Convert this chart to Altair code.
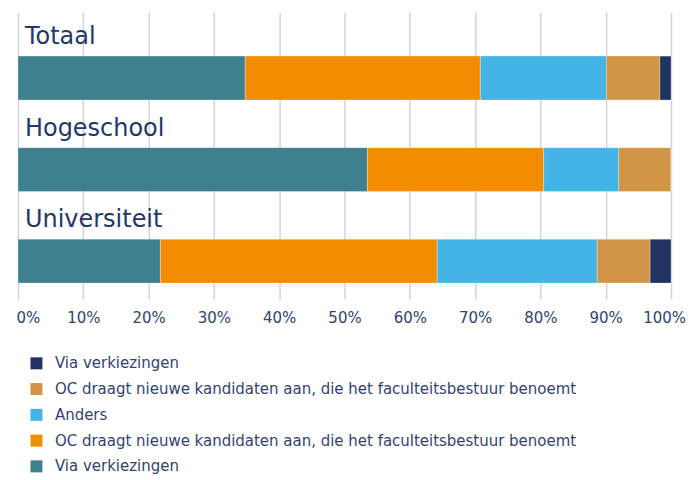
import json
import altair as alt
import pandas as pd

categories = ["Totaal", "Hogeschool", "Universiteit"]
series_keys = ["s1", "s2", "s3", "s4", "s5"]
series_labels = [
    "Via verkiezingen",
    "OC draagt nieuwe kandidaten aan, die het faculteitsbestuur benoemt",
    "Anders",
    "OC draagt nieuwe kandidaten aan, die het faculteitsbestuur benoemt",
    "Via verkiezingen",
]
series_colors = ["#3e808e", "#f28c00", "#42b4e6", "#d29545", "#213462"]

teal_values = [34.8, 53.5, 21.8]
orange_values = [36.0, 27.0, 42.4]
blue_values = [19.3, 11.5, 24.5]
tan_values = [8.2, 8.0, 8.1]
navy_values = [1.7, 0.0, 3.2]

x_ticks = [0, 10, 20, 30, 40, 50, 60, 70, 80, 90, 100]

all_values = [teal_values, orange_values, blue_values, tan_values, navy_values]
rows = []
for si, (key, vals) in enumerate(zip(series_keys, all_values)):
    for ci, cat in enumerate(categories):
        rows.append({"cat": cat, "series": key, "order": si, "value": vals[ci]})
df = pd.DataFrame(rows)
labels_df = pd.DataFrame({"cat": categories})

label_map = json.dumps(dict(zip(series_keys, series_labels)))
text_color = "#253763"
font = "DejaVu Sans"

y_enc = alt.Y("cat:N", sort=categories, axis=None,
              scale=alt.Scale(paddingInner=0, paddingOuter=0))

bars = alt.Chart(df).mark_bar(size=44, yOffset=20, stroke="#ffffff",
                              strokeWidth=0.5, strokeOpacity=0.6).encode(
    x=alt.X("value:Q", stack="zero",
            scale=alt.Scale(domain=[0, 100], nice=False),
            axis=alt.Axis(values=x_ticks, title=None, grid=True,
                          gridColor="#d2d3da", gridWidth=1.5,
                          tickColor="#d2d3da", tickWidth=1.5, tickSize=12,
                          domain=False, labelPadding=12,
                          labelExpr="datum.value + '%'",
                          labelAlign=alt.ExprRef("datum.value == 0 ? 'left' : 'center'"),
                          labelOffset=alt.ExprRef("datum.value == 100 ? -7 : (datum.value == 0 ? -2 : 0)"),
                          labelFont=font, labelFontSize=15,
                          labelColor="#33436e")),
    y=y_enc,
    color=alt.Color("series:N",
                    scale=alt.Scale(domain=series_keys[::-1], range=series_colors[::-1]),
                    legend=alt.Legend(title=None, orient="none", legendX=11, legendY=344,
                                      direction="vertical", symbolType="square",
                                      symbolSize=144, symbolStrokeWidth=0,
                                      labelExpr=label_map + "[datum.value]",
                                      labelFont=font, labelFontSize=15,
                                      labelColor="#33436e", labelLimit=700,
                                      labelOffset=11, rowPadding=9.8, padding=0)),
    order=alt.Order("order:Q", sort="ascending"),
)

texts = alt.Chart(labels_df).mark_text(
    align="left", baseline="middle", yOffset=-21,
    font=font, fontSize=24, color=text_color
).encode(
    x=alt.value(7),
    y=y_enc,
    text="cat:N",
)

chart = alt.layer(bars, texts).properties(
    width=654, height=275,
    padding={"left": 8, "top": 4, "right": 0, "bottom": 0},
).configure_view(stroke=None)

chart.save("out.html", embed_options={"renderer": "svg", "actions": False})
